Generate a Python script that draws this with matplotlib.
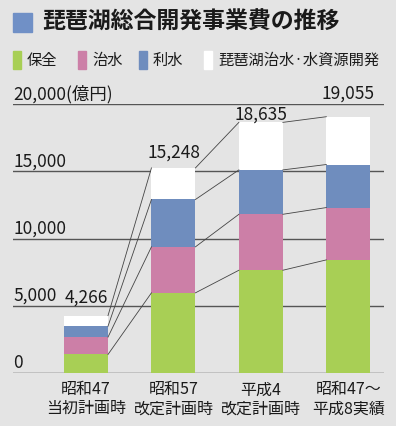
import matplotlib.pyplot as plt
from matplotlib.patches import Rectangle

plt.rcParams['font.family'] = ['Noto Sans CJK JP', 'DejaVu Sans']

# --- data (億円) ---
categories = ["昭和47\n当初計画時", "昭和57\n改定計画時", "平成4\n改定計画時", "昭和47～\n平成8実績"]
series_names = ["保全", "治水", "利水", "琵琶湖治水·水資源開発"]
hozen = [1380, 5960, 7640, 8410]
chisui = [1290, 3420, 4160, 3890]
risui = [810, 3520, 3300, 3200]
biwako = [786, 2348, 3535, 3555]
totals = [4266, 15248, 18635, 19055]
yticks = [0, 5000, 10000, 15000, 20000]
ytick_labels = ["0", "5,000", "10,000", "15,000", "20,000(億円)"]

colors = ["#a8cf55", "#cc7fa7", "#6f8dbe", "#ffffff"]
bg = "#e4e4e4"
label_offsets = [950, 730, 200, 1340]

W, H = 396, 426
fig = plt.figure(figsize=(W / 100, H / 100), dpi=100, facecolor=bg)

# axes placed so that y=0 sits at 373px and y=20000 at 104px
left, right, y0, y20 = 13, 384, 373, 104
ax = fig.add_axes([left / W, (H - y0) / H, (right - left) / W, (y0 - y20) / H])
ax.set_facecolor(bg)
ax.set_xlim(-0.835, 3.408)
ax.set_ylim(0, 20000)
ax.axis("off")

for t in yticks:
    ax.axhline(t, color="#3a3a3a" if t == 0 else "#555555", lw=1.0, zorder=1)
for t, lab in zip(yticks, ytick_labels):
    ax.annotate(lab, (0, t), xycoords=("axes fraction", "data"), xytext=(0, 3.5),
                textcoords="offset points", ha="left", va="baseline", fontsize=12.5,
                color="#1a1a1a", annotation_clip=False)

x = list(range(len(categories)))
w = 0.503
bottom = [0] * len(x)
tops = []
for vals, c in zip([hozen, chisui, risui, biwako], colors):
    ax.bar(x, vals, width=w, bottom=bottom, color=c, zorder=2, linewidth=0)
    bottom = [b + v for b, v in zip(bottom, vals)]
    tops.append(bottom)

# connector lines between segment tops
for top in tops:
    for i in range(len(x) - 1):
        ax.plot([x[i] + w / 2, x[i + 1] - w / 2], [top[i], top[i + 1]],
                color="#444444", lw=0.6, zorder=3, clip_on=False)

for i, tot in enumerate(totals):
    ax.text(x[i], tot + label_offsets[i], f"{tot:,}", ha="center", va="baseline",
            fontsize=12.5, color="#1a1a1a", clip_on=False)

for i, cat in enumerate(categories):
    ax.annotate(cat, (x[i], 0), xytext=(0, -6), textcoords="offset points",
                ha="center", va="top", fontsize=11.5, linespacing=1.15,
                color="#1a1a1a", annotation_clip=False)

# title
fig.patches.append(Rectangle((13 / W, 1 - 32 / H), 19 / W, 19 / H,
                             transform=fig.transFigure, color="#7090c6"))
fig.text(42 / W, 1 - 22 / H, "琵琶湖総合開発事業費の推移", ha="left", va="center",
         fontsize=16.5, fontweight="bold", color="#1a1a1a")

# legend
leg_x = [13, 78, 139, 204]
for lx, name, c in zip(leg_x, series_names, colors):
    fig.patches.append(Rectangle((lx / W, 1 - 69 / H), 8 / W, 18 / H,
                                 transform=fig.transFigure, color=c))
    fig.text((lx + 14) / W, 1 - 60 / H, name, ha="left", va="center",
             fontsize=11, color="#1a1a1a")

fig.savefig("out.png", dpi=100, facecolor=bg)
